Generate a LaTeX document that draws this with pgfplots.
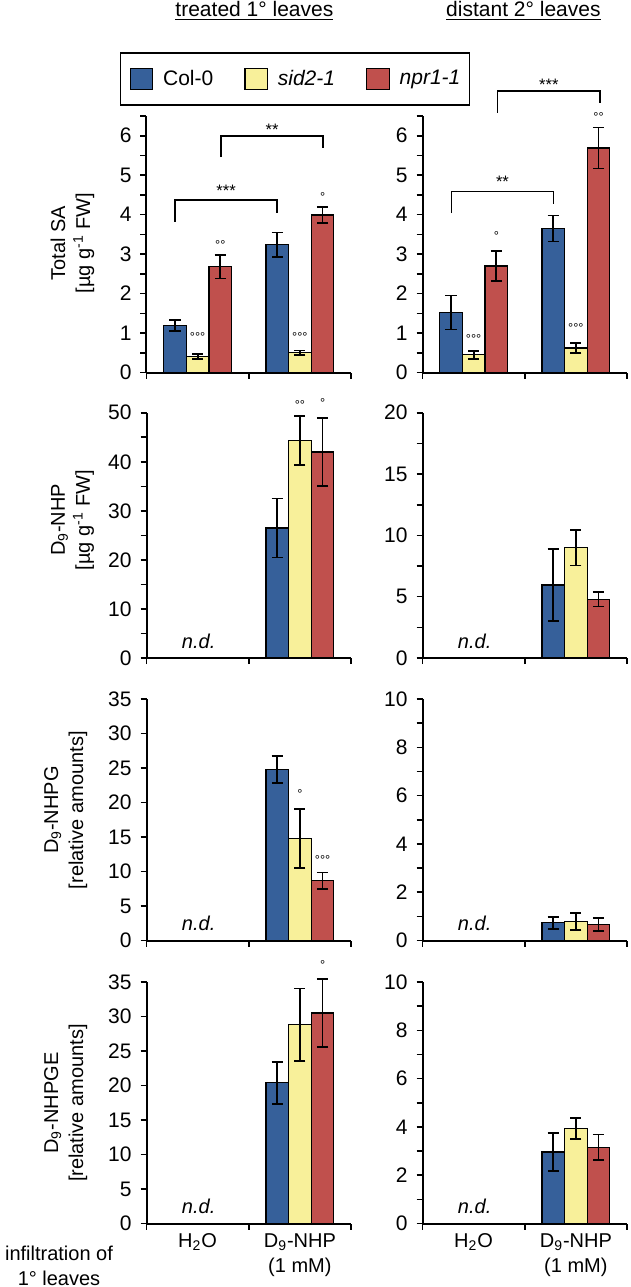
\documentclass[border=0pt]{standalone}
\usepackage{pgfplots}
\pgfplotsset{compat=1.18}
\usepackage{fontspec}
\setmainfont{Liberation Sans}
\definecolor{colA}{HTML}{36609A}
\definecolor{colB}{HTML}{F8F09A}
\definecolor{colC}{HTML}{C0504D}
\newcommand{\tickfont}{\fontsize{10.5}{12.5}\selectfont}
\newcommand{\labfont}{\fontsize{10}{12.5}\selectfont}
\newcommand{\sig}[3]{\node[anchor=base, yshift=-4.8pt, inner sep=0pt, font=\fontsize{8.3}{10}\selectfont] at (axis cs:#1,#2) {#3};}
\newcommand{\cir}[3]{\node[anchor=base, yshift=-3.7pt, inner sep=0pt, font=\fontsize{6.4}{8}\selectfont] at (axis cs:#1,#2) {#3};}
\newcommand{\nd}{\node[font=\labfont\itshape, yshift=8.5pt] at (axis cs:0.51,0) {n.d.};}
\pgfplotsset{
  panel/.style={
    scale only axis, width=102.25pt, anchor=south west,
    ybar=0pt, bar width=11.3pt,
    xmin=0, xmax=2, xtick={0,1,2}, xticklabels={},
    axis x line*=bottom, axis y line*=left,
    axis line style={-, line width=1pt, black},
    every tick/.style={line width=0.8pt, black},
    tick align=outside, major tick length=3pt, minor tick length=3pt,
    ymin=0, clip=false,
    tick label style={font=\tickfont},
    yticklabel style={xshift=-1pt},
    /pgf/number format/assume math mode=true,
    ylabel style={anchor=center, align=center, font=\labfont},
    legend image code/.code={\draw[#1, draw=black, line width=0.6pt] (0pt,-5.3pt) rectangle (11.2pt,5.3pt);},
  },
  bottompanel/.style={
    extra x ticks={0.5,1.5},
    extra x tick labels={H\textsubscript{2}O,{D\textsubscript{9}-NHP\\(1 mM)}},
    extra x tick style={major tick length=0pt, tick label style={align=center, font=\labfont, yshift=-1.5pt}},
  },
  errb/.style={error bars/y dir=both, error bars/y explicit,
    error bars/error bar style={line width=0.9pt, black},
    error bars/error mark options={rotate=90, mark size=2.8pt, line width=0.9pt, black}},
  sA/.style={fill=colA, draw=black, line width=0.6pt, errb},
  sB/.style={fill=colB, draw=black, line width=0.6pt, errb},
  sC/.style={fill=colC, draw=black, line width=0.6pt, errb},
}
\begin{document}
\begin{tikzpicture}
\useasboundingbox (0,0) rectangle (315.5pt,-643.5pt);
% titles
\node[anchor=base, font=\fontsize{10.5}{12}\selectfont] at (127.2pt,-8pt) {\underline{treated 1° leaves}};
\node[anchor=base, font=\fontsize{10.5}{12}\selectfont] at (261.7pt,-8pt) {\underline{distant 2° leaves}};
\node[align=center, font=\labfont] at (29.5pt,-633pt) {infiltration of\\1° leaves};

% ---------- Row 1: Total SA ----------
\begin{axis}[panel, at={(73.25pt,-186.25pt)}, height=128.25pt,
  ymax=6.5, ytick={0,1,...,6}, minor ytick={0.5,1.5,...,6.5},
  ylabel={Total SA\\{}[µg g\textsuperscript{-1} FW]},
  ylabel style={at={(axis description cs:-0.362,0.505)}},
  legend style={at={(axis description cs:0.726,1.144)}, anchor=center, legend columns=3,
    draw=black, line width=0.9pt, font=\fontsize{10.5}{12}\selectfont, inner xsep=4.5pt, inner ysep=6.5pt,
    nodes={inner xsep=0pt, inner ysep=2pt},
    /tikz/every odd column/.append style={column sep=5pt},
    /tikz/every even column/.append style={column sep=15.5pt}},
  legend cell align=left]
\addplot[sA] coordinates {(0.5,1.19) +- (0,0.14) (1.5,3.24) +- (0,0.31)};
\addplot[sB] coordinates {(0.5,0.40) +- (0,0.06) (1.5,0.50) +- (0,0.06)};
\addplot[sC] coordinates {(0.5,2.68) +- (0,0.30) (1.5,3.99) +- (0,0.20)};
\addlegendentry{Col-0}
\addlegendentry{\textit{sid2-1}}
\addlegendentry{\textit{npr1-1}}
\cir{0.5}{0.97}{°°°}
\cir{1.5}{0.97}{°°°}
\cir{0.722}{3.31}{°°}
\cir{1.722}{4.52}{°}
\draw[line width=0.8pt] (axis cs:0.278,3.82) -- (axis cs:0.278,4.37) -- (axis cs:1.278,4.37) -- (axis cs:1.278,4.04);
\sig{0.778}{4.7}{***}
\draw[line width=0.8pt] (axis cs:0.728,5.46) -- (axis cs:0.728,5.99) -- (axis cs:1.728,5.99) -- (axis cs:1.728,5.69);
\sig{1.228}{6.24}{**}
\end{axis}

\begin{axis}[panel, at={(211.25pt,-186.25pt)}, height=128.25pt,
  ymax=6.5, ytick={0,1,...,6}, minor ytick={0.5,1.5,...,6.5}]
\addplot[sA] coordinates {(0.5,1.52) +- (0,0.43) (1.5,3.65) +- (0,0.33)};
\addplot[sB] coordinates {(0.5,0.45) +- (0,0.10) (1.5,0.62) +- (0,0.13)};
\addplot[sC] coordinates {(0.5,2.70) +- (0,0.38) (1.5,5.69) +- (0,0.52)};
\cir{0.5}{0.92}{°°°}
\cir{1.5}{1.19}{°°°}
\cir{0.722}{3.53}{°}
\cir{1.722}{6.54}{°°}
\draw[line width=0.8pt] (axis cs:0.282,4.04) -- (axis cs:0.282,4.59) -- (axis cs:1.282,4.59) -- (axis cs:1.282,4.27);
\sig{0.782}{4.94}{**}
\draw[line width=0.8pt] (axis cs:0.735,6.58) -- (axis cs:0.735,7.13) -- (axis cs:1.735,7.13) -- (axis cs:1.735,6.84);
\sig{1.235}{7.39}{***}
\end{axis}

% ---------- Row 2: D9-NHP ----------
\begin{axis}[panel, at={(73.25pt,-329pt)}, height=122.65pt,
  ymax=50, ytick={0,10,...,50}, minor ytick={5,15,...,45},
  ylabel={D\textsubscript{9}-NHP\\{}[µg g\textsuperscript{-1} FW]},
  ylabel style={at={(axis description cs:-0.362,0.563)}}]
\addplot[sA] coordinates {(1.5,26.5) +- (0,6.0)};
\addplot[sB] coordinates {(1.5,44.4) +- (0,5.0)};
\addplot[sC] coordinates {(1.5,42.0) +- (0,6.9)};
\cir{1.5}{52.2}{°°}
\cir{1.722}{52.6}{°}
\nd
\end{axis}

\begin{axis}[panel, at={(211.25pt,-329pt)}, height=122.65pt,
  ymax=20, ytick={0,5,...,20}, minor ytick={2.5,7.5,...,17.5}]
\addplot[sA] coordinates {(1.5,5.95) +- (0,2.95)};
\addplot[sB] coordinates {(1.5,9.0) +- (0,1.45)};
\addplot[sC] coordinates {(1.5,4.8) +- (0,0.6)};
\nd
\end{axis}

% ---------- Row 3: D9-NHPG ----------
\begin{axis}[panel, at={(73.25pt,-470.25pt)}, height=120.75pt,
  ymax=35, ytick={0,5,...,35},
  ylabel={D\textsubscript{9}-NHPG\\{}[relative amounts]},
  ylabel style={at={(axis description cs:-0.395,0.54)}}]
\addplot[sA] coordinates {(1.5,24.8) +- (0,1.95)};
\addplot[sB] coordinates {(1.5,14.8) +- (0,4.25)};
\addplot[sC] coordinates {(1.5,8.65) +- (0,1.2)};
\cir{1.5}{21.6}{°}
\cir{1.722}{12.1}{°°°}
\nd
\end{axis}

\begin{axis}[panel, at={(211.25pt,-470.25pt)}, height=120.75pt,
  ymax=10, ytick={0,2,...,10}, minor ytick={1,3,...,9}]
\addplot[sA] coordinates {(1.5,0.73) +- (0,0.25)};
\addplot[sB] coordinates {(1.5,0.79) +- (0,0.34)};
\addplot[sC] coordinates {(1.5,0.67) +- (0,0.27)};
\nd
\end{axis}

% ---------- Row 4: D9-NHPGE ----------
\begin{axis}[panel, bottompanel, at={(73.25pt,-611.75pt)}, height=120.75pt,
  ymax=35, ytick={0,5,...,35},
  ylabel={D\textsubscript{9}-NHPGE\\{}[relative amounts]},
  ylabel style={at={(axis description cs:-0.395,0.499)}}]
\addplot[sA] coordinates {(1.5,20.4) +- (0,3.05)};
\addplot[sB] coordinates {(1.5,28.8) +- (0,5.25)};
\addplot[sC] coordinates {(1.5,30.5) +- (0,4.95)};
\cir{1.722}{37.9}{°}
\nd
\end{axis}

\begin{axis}[panel, bottompanel, at={(211.25pt,-611.75pt)}, height=120.75pt,
  ymax=10, ytick={0,2,...,10}, minor ytick={1,3,...,9}]
\addplot[sA] coordinates {(1.5,2.96) +- (0,0.78)};
\addplot[sB] coordinates {(1.5,3.93) +- (0,0.44)};
\addplot[sC] coordinates {(1.5,3.16) +- (0,0.53)};
\nd
\end{axis}
\end{tikzpicture}
\end{document}
